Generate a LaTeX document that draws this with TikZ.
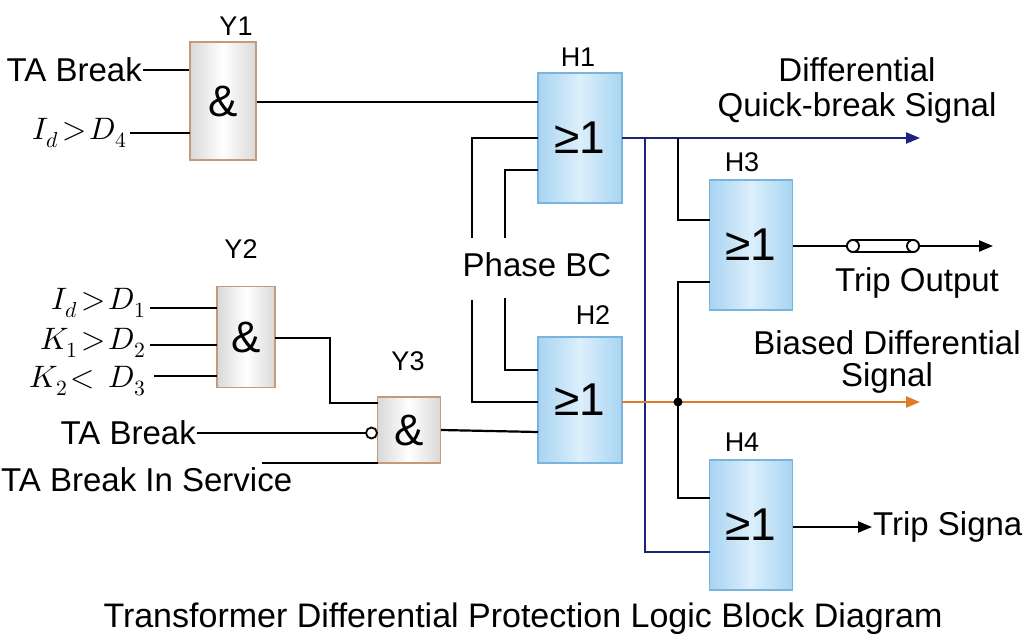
\documentclass[tikz,border=0pt]{standalone}
\usepackage{unicode-math}
\setmainfont{Liberation Sans}
\setmathfont{Latin Modern Math}
\usetikzlibrary{arrows.meta}
\definecolor{gborder}{HTML}{C49A7A}
\definecolor{hborder}{HTML}{78B4DC}
\definecolor{hfillA}{HTML}{A8D4F2}
\definecolor{hfillB}{HTML}{DCEFFB}
\definecolor{navy}{HTML}{1A237E}
\definecolor{orng}{HTML}{E07B28}
\tikzset{
  andg/.style={draw=gborder,line width=1.2pt,left color=gray!30,right color=gray!30,middle color=white,inner sep=0pt,font=\fontsize{44}{46}\selectfont},
  org/.style={draw=hborder,line width=1.2pt,left color=hfillA,right color=hfillA,middle color=hfillB,inner sep=0pt,font=\fontsize{46}{48}\selectfont},
  lbl/.style={font=\fontsize{27}{29}\selectfont},
  txt/.style={font=\fontsize{33}{35}\selectfont,inner sep=1pt},
  mtxt/.style={font=\fontsize{31}{33}\selectfont,inner sep=1pt},
  w/.style={line width=2.2pt},
  arr/.style={w,-{Triangle[length=14pt,width=11pt]}},
}
\begin{document}
\begin{tikzpicture}[x=1pt,y=-1pt]
\useasboundingbox (0,0) rectangle (1024,644);
% gates
\node[andg,minimum width=66pt,minimum height=118pt] (y1) at (223,101) {\&};
\node[andg,minimum width=58pt,minimum height=101pt] (y2) at (246,337) {\&};
\node[andg,minimum width=63pt,minimum height=66pt] (y3) at (409,430) {\&};
\node[org,minimum width=84pt,minimum height=130pt] (h1) at (580,138) {≥1};
\node[org,minimum width=84pt,minimum height=126pt] (h2) at (580,400) {≥1};
\node[org,minimum width=83pt,minimum height=130pt] (h3) at (751,245) {≥1};
\node[org,minimum width=83pt,minimum height=130pt] (h4) at (751,525) {≥1};
\node[lbl] (ly1) at (236,26) {Y1};
\node[lbl] (ly2) at (241,249) {Y2};
\node[lbl] (ly3) at (408,361) {Y3};
\node[lbl] (lh1) at (578,57) {H1};
\node[lbl] (lh2) at (593,315) {H2};
\node[lbl] (lh3) at (742,162) {H3};
\node[lbl] (lh4) at (742,442) {H4};
% left texts
\node[txt,anchor=east] (ta1) at (143,70) {TA Break};
\node[mtxt,anchor=east] (id4) at (128,133) {$I_d\!>\!D_4$};
\node[mtxt,anchor=east] (id1) at (147,303) {$I_d\!>\!D_1$};
\node[mtxt,anchor=east] (k1) at (147,343) {$K_1\!>\!D_2$};
\node[mtxt,anchor=east] (k2) at (147,381) {$K_2\!<\,D_3$};
\node[txt,anchor=east] (ta2) at (197,433) {TA Break};
\node[txt,anchor=west] (tis) at (0,480) {TA Break In Service};
\node[txt] (pbc) at (537,265) {Phase BC};
\node[txt] (dq1) at (857,70) {Differential};
\node[txt] (dq2) at (857,108) {Quick-break Signal};
\node[txt] (tro) at (917,283) {Trip Output};
\node[txt] (bd1) at (887,343) {Biased Differential};
\node[txt] (bd2) at (887,378) {Signal};
\node[txt,anchor=west] (trs) at (872,527) {Trip Signa};
\node[txt,font=\fontsize{34}{36}\selectfont] (title) at (523,619) {Transformer Differential Protection Logic Block Diagram};
% coordinates
\coordinate (o3) at (993,246);
\coordinate (cap1) at (853,246);
\coordinate (cap2) at (913,246);
% Y1
\draw[w] (ta1.east) -- (ta1.east -| y1.west);
\draw[w] (130,133) -- (190,133);
\draw[w] (y1.east |- 0,102) -- (538,102);
% Y2
\draw[w] (150,308) -- (217,308);
\draw[w] (150,345) -- (217,345);
\draw[w] (154,376) -- (217,376);
\draw[w] (275,338) -- (330,338) -- (330,403) -- (378,403);
% Y3
\draw[w] (ta2.east) -- (366,433);
\draw[line width=1.8pt,fill=white] (371.5,433) circle (5.5pt);
\draw[w] (262,463) -- (378,463);
\draw[w] (441,430) -- (538,432);
% Phase BC lines
\draw[w] (538,138) -- (472,138) -- (472,238);
\draw[w] (538,170) -- (505,170) -- (505,238);
\draw[w] (472,300) -- (472,402) -- (538,402);
\draw[w] (505,298) -- (505,370) -- (538,370);
% outputs
\draw[w,draw=navy,-{Triangle[length=14pt,width=11pt]}] (622,138) -- (920,138);
\draw[w,draw=navy] (645,138) -- (645,552) -- (710,552);
\draw[w] (678,138) -- (678,220) -- (710,220);
\draw[w,draw=orng,-{Triangle[length=14pt,width=11pt]}] (622,402) -- (920,402);
\draw[w] (710,282) -- (678,282) -- (678,498) -- (710,498);
\fill (678,402) circle (4.5pt);
\draw[w] (793,246) -- (cap1);
\draw[arr] (cap2) -- (o3);
\draw[line width=1.8pt,fill=white,rounded corners=6pt] (847,240) rectangle (919,252);
\draw[line width=1.8pt,fill=white] (853,246) circle (6pt);
\draw[line width=1.8pt,fill=white] (913,246) circle (6pt);
\draw[arr] (793,527) -- (trs.west);
\end{tikzpicture}
\end{document}
